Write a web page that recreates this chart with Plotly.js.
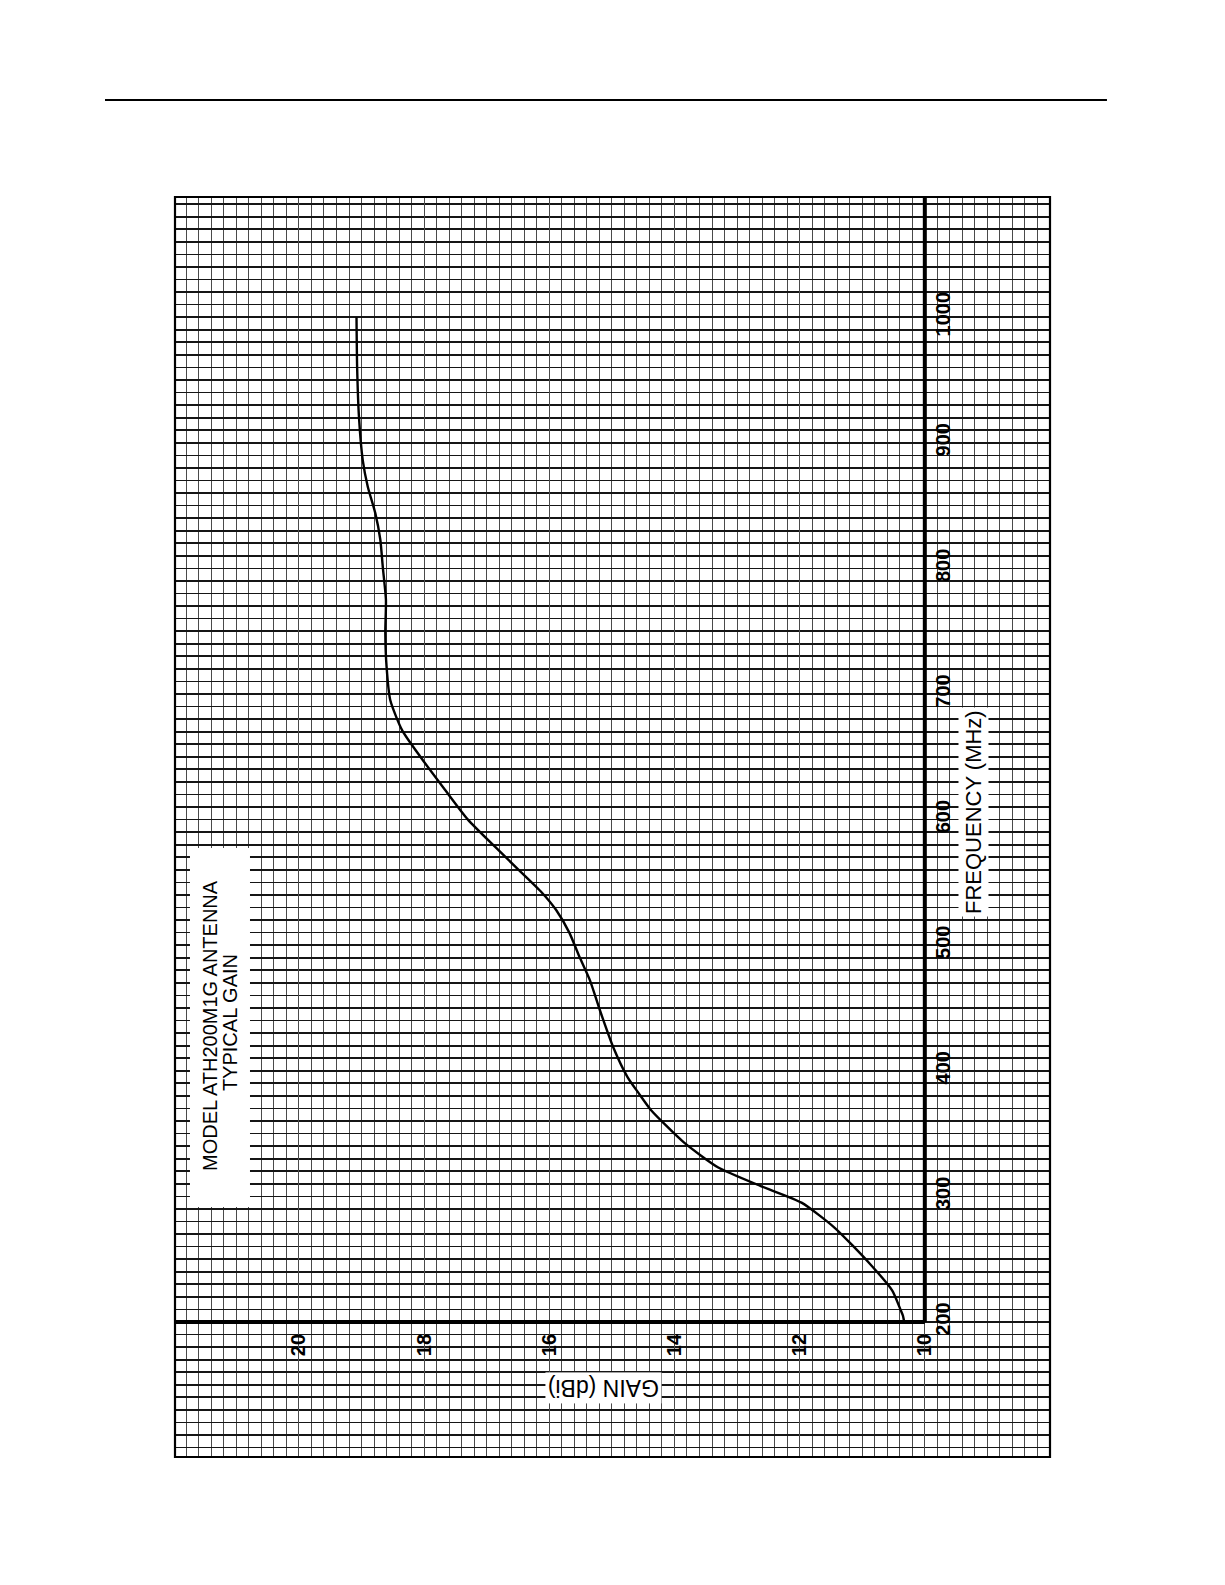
<!DOCTYPE html>
<html>
<head>
<meta charset="utf-8">
<script src="https://cdn.plot.ly/plotly-3.0.1.min.js"></script>
<style>
  html, body { margin: 0; padding: 0; background: #ffffff; }
  #chart { width: 1225px; height: 1585px; }
</style>
</head>
<body>
<div id="chart"></div>
<script>
// ---- data (frequency in MHz, gain in dBi) ----
const frequencyMHz = [200, 205, 210, 225, 247, 275, 295, 308, 323, 343, 369, 382, 395, 419, 448, 472, 491, 510, 528, 542, 560, 578, 600, 624, 650, 671, 695, 722, 749, 775, 801, 823, 844, 865, 886, 920, 960, 1000];
const gainDBi      = [10.33, 10.35, 10.39, 10.52, 10.89, 11.44, 11.97, 12.61, 13.30, 13.85, 14.38, 14.57, 14.75, 14.98, 15.19, 15.35, 15.52, 15.68, 15.89, 16.12, 16.49, 16.86, 17.30, 17.67, 18.06, 18.35, 18.54, 18.60, 18.62, 18.61, 18.66, 18.70, 18.78, 18.90, 18.98, 19.04, 19.07, 19.08];

const gainTicks = [10, 12, 14, 16, 18, 20];
const gainTickLabels = ["10", "12", "14", "16", "18", "20"];
const freqTicks = [200, 300, 400, 500, 600, 700, 800, 900, 1000];
const freqTickLabels = ["200", "300", "400", "500", "600", "700", "800", "900", "1000"];

const titleLine1 = "MODEL ATH200M1G ANTENNA";
const titleLine2 = "TYPICAL GAIN";
const freqTitle = "FREQUENCY (MHz)";
const gainTitle = "GAIN (dBi)";

// ---- layout ----
const gainRange = [21.98, 8.0];   // reversed: high gain on the left
const freqRange = [92.5, 1095.7];
const frac = (v, r) => (v - r[0]) / (r[1] - r[0]);

const gridDark = "#151515";
const gridLight = "#4a4a4a";
const fontFam = "Liberation Sans, Arial, sans-serif";

const trace = {
  x: gainDBi,
  y: frequencyMHz,
  type: "scatter",
  mode: "lines",
  line: { color: "#000000", width: 2.4, shape: "spline", smoothing: 0.6 },
  hoverinfo: "skip",
  showlegend: false
};

const layout = {
  width: 1225,
  height: 1585,
  paper_bgcolor: "#ffffff",
  plot_bgcolor: "#ffffff",
  margin: { l: 175, r: 175, t: 197, b: 128 },
  showlegend: false,
  font: { family: fontFam, color: "#000000" },
  xaxis: {
    range: gainRange,
    anchor: "free",
    position: frac(200, freqRange),
    side: "bottom",
    tickmode: "array",
    tickvals: gainTicks,
    ticktext: gainTickLabels,
    tickangle: -90,
    tickfont: { family: fontFam, size: 20, color: "#000", weight: "bold" },
    ticks: "",
    ticklabelstandoff: 7,
    showline: false,
    zeroline: false,
    showgrid: true,
    gridcolor: gridLight,
    gridwidth: 1,
    minor: { tickmode: "linear", tick0: 10, dtick: 0.2, showgrid: true, gridcolor: gridLight, gridwidth: 1, ticks: "" }
  },
  yaxis: {
    range: freqRange,
    anchor: "free",
    position: frac(10, gainRange),
    side: "right",
    tickmode: "array",
    tickvals: freqTicks,
    ticktext: freqTickLabels,
    tickangle: -90,
    tickfont: { family: fontFam, size: 20, color: "#000", weight: "bold" },
    ticks: "",
    ticklabelstandoff: 4,
    showline: false,
    zeroline: false,
    showgrid: true,
    gridcolor: gridDark,
    gridwidth: 1.7,
    minor: { tickmode: "linear", tick0: 200, dtick: 10, showgrid: true, gridcolor: gridDark, gridwidth: 1.7, ticks: "" }
  },
  shapes: [
    // paper border
    { type: "rect", xref: "paper", yref: "paper", x0: 0, x1: 1, y0: 0, y1: 1,
      line: { color: "#000", width: 2.2 }, fillcolor: "rgba(0,0,0,0)" },
    // heavy gain = 10 line (from 200 MHz to top)
    { type: "line", xref: "x", yref: "y", x0: 10, x1: 10, y0: 200, y1: freqRange[1],
      line: { color: "#000", width: 4 } },
    // heavy 200 MHz line (from left edge to gain = 10)
    { type: "line", xref: "x", yref: "y", x0: gainRange[0], x1: 10, y0: 200, y1: 200,
      line: { color: "#000", width: 4 } },
    // white title box
    { type: "rect", xref: "paper", yref: "paper", x0: 0.0171, x1: 0.0857, y0: 0.1984, y1: 0.4833,
      line: { width: 0 }, fillcolor: "#ffffff", layer: "above" },
    // top rule of the page
    { type: "line", xref: "paper", yref: "paper", x0: -0.08, x1: 1.0651, y0: 1.077, y1: 1.077,
      line: { color: "#000", width: 2 } }
  ],
  annotations: [
    { xref: "paper", yref: "paper", x: 0.040, y: 0.3421, text: titleLine1, showarrow: false,
      textangle: -90, xanchor: "center", yanchor: "middle",
      font: { family: fontFam, size: 20, color: "#000" } },
    { xref: "paper", yref: "paper", x: 0.0629, y: 0.3444, text: titleLine2, showarrow: false,
      textangle: -90, xanchor: "center", yanchor: "middle",
      font: { family: fontFam, size: 20, color: "#000" } },
    { xref: "paper", yref: "paper", x: 0.912, y: 0.5119, text: freqTitle, showarrow: false,
      textangle: -90, xanchor: "center", yanchor: "middle", bgcolor: "#ffffff", borderpad: 2,
      font: { family: fontFam, size: 22, color: "#000" } },
    { xref: "paper", yref: "paper", x: 0.4891, y: 0.0548, text: gainTitle, showarrow: false,
      textangle: 180, xanchor: "center", yanchor: "middle", bgcolor: "#ffffff", borderpad: 2,
      font: { family: fontFam, size: 23, color: "#000" } }
  ]
};

Plotly.newPlot("chart", [trace], layout, { staticPlot: true, displayModeBar: false });
</script>
</body>
</html>
